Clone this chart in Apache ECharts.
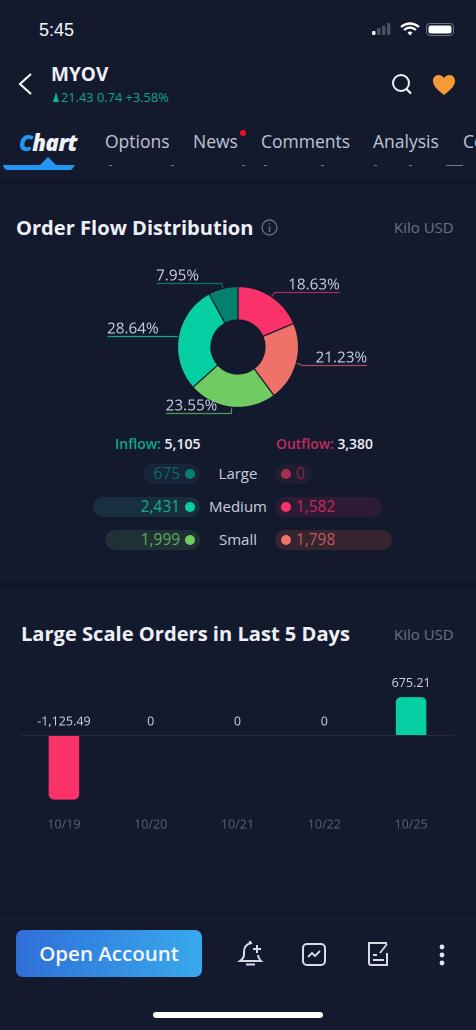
<!doctype html>
<html>
<head>
<meta charset="utf-8">
<title>MYOV Order Flow</title>
<script src="https://cdn.jsdelivr.net/npm/echarts@6/dist/echarts.min.js"></script>
<style>
    html,body{margin:0;padding:0;width:476px;height:1030px;overflow:hidden;background:#141a2e;font-family:"Open Sans","Noto Sans",sans-serif;}
    .abs{position:absolute;white-space:nowrap;}
    .strip{position:absolute;left:0;width:476px;background:linear-gradient(180deg,#10152a,#0f1427 60%,#131929);}
    .title{font-size:20.1px;font-weight:700;color:#eef0f6;line-height:24px;}
    .unit{font-size:15px;color:#6b7085;line-height:18px;}
    .tab{font-size:17.5px;color:#bfc4d4;line-height:24px;top:129px;}
    .pill{position:absolute;height:20px;border-radius:10px;}
    .num{font-size:15.4px;line-height:20px;}
    .dot{position:absolute;width:10px;height:10px;border-radius:5px;}
    .rowname{position:absolute;width:80px;left:198px;text-align:center;font-size:15px;line-height:20px;color:#c8cddc;}
    #pieChart{position:absolute;left:0;top:250px;width:476px;height:180px;}
    #barChart{position:absolute;left:0;top:660px;width:476px;height:180px;}
    svg{position:absolute;overflow:visible;}
</style>
</head>
<body>

<!-- status bar -->
<div class="abs" style="left:39px;top:18px;font:500 18px/24px 'Liberation Sans',sans-serif;color:#f4f5f8;">5:45</div>
<svg style="left:372px;top:22px;" width="84" height="16">
    <rect x="0" y="9" width="3.5" height="4" rx="1" fill="#f0f0f0"/>
    <rect x="5" y="6" width="3.5" height="7" rx="1" fill="#4b5060"/>
    <rect x="10" y="3.5" width="3.5" height="9.5" rx="1" fill="#4b5060"/>
    <rect x="15" y="1" width="3.5" height="12" rx="1" fill="#4b5060"/>
    <path d="M29 5 Q38 -2 47 5 M32 8 Q38 3 44 8" fill="none" stroke="#fff" stroke-width="2.2"/>
    <path d="M35.5 10.5 Q38 8.5 40.5 10.5 L38 13.5Z" fill="#fff"/>
    <rect x="54.5" y="1.5" width="27" height="12" rx="3.5" fill="none" stroke="#6d7280"/>
    <rect x="56.5" y="3.5" width="23" height="8" rx="2" fill="#fff"/>
</svg>

<!-- nav -->
<svg style="left:0;top:0;" width="476" height="120">
    <path d="M31 74 L20 84 L31 94" fill="none" stroke="#f2f3f6" stroke-width="2.2"/>
    <path d="M56 92 L59 102 L53 102Z" fill="#12b48e"/>
    <circle cx="401" cy="83" r="8" fill="none" stroke="#f2f3f6" stroke-width="2"/>
    <path d="M406.5 89 L411 93.5" stroke="#f2f3f6" stroke-width="2.2"/>
    <path d="M444 95 C436 89 433 85 433 81 C433 74 441 73 444 78 C447 73 455 74 455 81 C455 85 452 89 444 95Z" fill="#f59a35"/>
</svg>
<div class="abs" style="left:51px;top:61px;font-size:19px;font-weight:700;color:#eef0f6;line-height:26px;">MYOV</div>
<div class="abs" style="left:61px;top:88px;font-size:12.8px;color:#12a585;line-height:18px;">21.43 0.74 +3.58%</div>

<!-- tabs -->
<div class="abs" style="left:19px;top:127px;font-size:22px;font-weight:800;font-style:italic;color:#f0f2f7;line-height:30px;letter-spacing:-.5px;"><span style="color:#2196f3;">C</span>hart</div>
<div class="abs tab" style="left:105px;">Options</div>
<div class="abs tab" style="left:193px;">News</div>
<div class="abs" style="left:240px;top:130px;width:6px;height:6px;border-radius:3px;background:#f01020;"></div>
<div class="abs tab" style="left:261px;">Comments</div>
<div class="abs tab" style="left:373px;">Analysis</div>
<div class="abs tab" style="left:463px;">Comments</div>
<svg style="left:0;top:0;" width="476" height="180">
    <path d="M3 165 L40 165 L48 157 L56 165 L75 165 L73 168 Q72 170 70 170 L8 170 Q5 170 4 168Z" fill="#2196f3"/>
    <!-- bottoms of the row scrolled behind the tab bar -->
    <path d="M109 165.5 H112 M171 165.5 H174 M242 165.5 H245 M264 165.5 H267 M321 165.5 H324 M374 165.5 H377 M409 165.5 H412 M446 165.5 H463" stroke="#767c90" stroke-width="1.2"/>
</svg>
<div class="strip" style="top:178px;height:8px;"></div>

<!-- order flow section -->
<div class="abs title" style="left:16px;top:216px;">Order Flow Distribution</div>
<svg style="left:261px;top:219px;" width="18" height="18">
    <circle cx="8.5" cy="8.5" r="7.5" fill="none" stroke="#666c82" stroke-width="1.3"/>
    <path d="M8.5 7.5 V13 M8.5 4 V5.6" stroke="#666c82" stroke-width="1.5"/>
</svg>
<div class="abs unit" style="left:394px;top:218px;">Kilo USD</div>

<div id="pieChart"></div>
<div id="flowRows"></div>

<div class="strip" style="top:582px;height:8px;"></div>

<!-- large orders section -->
<div class="abs title" style="left:21px;top:622px;">Large Scale Orders in Last 5 Days</div>
<div class="abs unit" style="left:394px;top:625px;">Kilo USD</div>
<div id="barChart"></div>

<!-- bottom bar -->
<div style="position:absolute;left:0;top:918px;width:476px;height:1px;background:#1c2238;"></div>
<div class="abs" style="left:16px;top:930px;width:186px;height:47px;border-radius:7px;background:linear-gradient(90deg,#2f6fd8,#38a9ec);color:#f4f6fb;font-size:20.5px;font-weight:600;line-height:47px;text-align:center;">Open Account</div>
<svg style="left:0;top:930px;" width="476" height="50" fill="none" stroke="#d8dbe4" stroke-width="2">
    <path d="M252 13 Q244 14 244 22 V25 Q244 28 240 31 H261 Q258 28 258 25"/>
    <path d="M246 34.5 H255 M250 11 V13" stroke-width="2.2"/>
    <path d="M253 19 H261 M257 15 V23" stroke-width="2"/>
    <rect x="303" y="14" width="22" height="21" rx="4"/>
    <path d="M308 27 L312 23 L315 26 L320 21" stroke-width="1.8"/>
    <path d="M387 13 H369 V33 Q369 35 371 35 H387 V23"/>
    <path d="M373 25 H377 M373 30 H384 M380 23 L387 14" stroke-width="1.8"/>
    <g fill="#e4e6ec" stroke="none"><circle cx="442" cy="17" r="2.4"/><circle cx="442" cy="25" r="2.4"/><circle cx="442" cy="33" r="2.4"/></g>
</svg>
<div style="position:absolute;left:153px;top:1012px;width:170px;height:6px;border-radius:3px;background:#fff;"></div>

<script type="text/javascript">
    // donut, clockwise from 12 o'clock
    var sliceNames = ['Medium outflow', 'Small outflow', 'Small inflow', 'Medium inflow', 'Large inflow'];
    var slicePercents = [18.63, 21.23, 23.55, 28.64, 7.95];
    var sliceColors = ['#f9326a', '#ee716a', '#70cb62', '#05cfa3', '#04806f'];
    var leaderColors = ['#a02f63', '#a34c5c', '#4c9a52', '#0fa588', '#0b7268'];

    // rows under the donut
    var rowNames = ['Large', 'Medium', 'Small'];
    var inflowTotal = 5105;
    var outflowTotal = 3380;
    var inflowValues = [675, 2431, 1999];
    var outflowValues = [0, 1582, 1798];

    // last 5 days
    var dayLabels = ['10/19', '10/20', '10/21', '10/22', '10/25'];
    var dayValues = [-1125.49, 0, 0, 0, 675.21];

    var pie = echarts.init(document.getElementById('pieChart'), null, {devicePixelRatio: 2});
    pie.setOption({
        animation: false,
        series: [{
            type: 'pie',
            center: [238, 97],
            radius: [27, 60.5],
            startAngle: 90,
            clockwise: true,
            avoidLabelOverlap: false,
            silent: true,
            itemStyle: {borderColor: '#141a2e', borderWidth: 1.2},
            label: {
                formatter: function (p) { return p.value + '%\n '; },
                color: '#c8cde0',
                fontFamily: 'Open Sans',
                fontSize: 15.3,
                lineHeight: 14
            },
            labelLine: {length: 6, length2: 65, lineStyle: {width: 1.2}},
            labelLayout: function (params) {
                // keep the text sitting on the far part of its leader line
                var pts = params.labelLinePoints;
                var left = pts[2][0] < pts[1][0];
                pts[1][1] = pts[2][1] = Math.round(pts[2][1]) + 0.5;
                return {
                    x: left ? pts[2][0] - 0.5 : pts[2][0] - params.labelRect.width,
                    y: pts[2][1] - params.labelRect.height / 2,
                    align: 'left',
                    verticalAlign: 'top',
                    labelLinePoints: pts
                };
            },
            data: slicePercents.map(function (v, i) {
                return {
                    name: sliceNames[i],
                    value: v,
                    itemStyle: {color: sliceColors[i]},
                    labelLine: {lineStyle: {color: leaderColors[i]}}
                };
            })
        }]
    });

    var bar = echarts.init(document.getElementById('barChart'), null, {devicePixelRatio: 2});
    bar.setOption({
        animation: false,
        grid: {left: 20.5, right: 21.5, top: 1.5, height: 148},
        xAxis: {
            type: 'category',
            data: dayLabels,
            axisLine: {show: false, onZero: false},
            axisTick: {show: false},
            axisLabel: {color: '#5c6276', fontSize: 12.5, fontFamily: 'Open Sans', margin: 9}
        },
        yAxis: {type: 'value', min: -1300, max: 1300, show: false},
        series: [{
            type: 'bar',
            barWidth: 30.5,
            silent: true,
            label: {
                show: true,
                position: 'top',
                distance: 7,
                color: '#d0d4e0',
                fontSize: 12.5,
                fontFamily: 'Open Sans',
                formatter: function (p) { return p.value.toLocaleString('en-US'); }
            },
            markLine: {
                silent: true,
                symbol: 'none',
                label: {show: false},
                lineStyle: {color: '#232a40', width: 1, type: 'solid'},
                data: [{yAxis: 0}]
            },
            data: dayValues.map(function (v) {
                return {
                    value: v,
                    itemStyle: {
                        color: v < 0 ? '#f9326a' : '#05cfa3',
                        borderRadius: v < 0 ? [0, 0, 5, 5] : [5, 5, 0, 0]
                    }
                };
            })
        }]
    });

    // inflow / outflow rows, plain markup
    var inflowPill = [57, 107, 95];
    var outflowPill = [37, 107, 117];
    var inflowDots = ['#04806f', '#05cfa3', '#70cb62'];
    var outflowDots = ['#a8304f', '#f9326a', '#ee716a'];
    var inflowText = ['#0b6a60', '#0fae8c', '#5cab5a'];
    var outflowText = ['#7d2a45', '#c22a5c', '#bf5a5a'];
    var inflowFill = ['#17243a', '#172f3e', '#1f3136'];
    var outflowFill = ['#211d33', '#2e1c36', '#34252f'];
    var html = '';
    html += '<div class="abs" style="left:115px;top:434px;font-size:14px;line-height:20px;font-weight:600;color:#10a585;">Inflow: <span style="color:#eef0f6;">' + inflowTotal.toLocaleString('en-US') + '</span></div>';
    html += '<div class="abs" style="left:276px;top:434px;font-size:13.9px;line-height:20px;font-weight:600;color:#c22a5c;">Outflow: <span style="color:#eef0f6;">' + outflowTotal.toLocaleString('en-US') + '</span></div>';
    for (var i = 0; i < rowNames.length; i++) {
        var rowTop = 464 + i * 33;
        html += '<div class="pill" style="left:' + (200 - inflowPill[i]) + 'px;top:' + rowTop + 'px;width:' + inflowPill[i] + 'px;background:' + inflowFill[i] + ';"></div>';
        html += '<div class="abs num" style="right:' + (476 - 180) + 'px;top:' + rowTop + 'px;color:' + inflowText[i] + ';">' + inflowValues[i].toLocaleString('en-US') + '</div>';
        html += '<div class="dot" style="left:185px;top:' + (rowTop + 5) + 'px;background:' + inflowDots[i] + ';"></div>';
        html += '<div class="rowname" style="top:' + (rowTop - 1) + 'px;">' + rowNames[i] + '</div>';
        html += '<div class="pill" style="left:275px;top:' + rowTop + 'px;width:' + outflowPill[i] + 'px;background:' + outflowFill[i] + ';"></div>';
        html += '<div class="dot" style="left:281px;top:' + (rowTop + 5) + 'px;background:' + outflowDots[i] + ';"></div>';
        html += '<div class="abs num" style="left:296px;top:' + rowTop + 'px;color:' + outflowText[i] + ';">' + outflowValues[i].toLocaleString('en-US') + '</div>';
    }
    document.getElementById('flowRows').innerHTML = html;
</script>
</body>
</html>
